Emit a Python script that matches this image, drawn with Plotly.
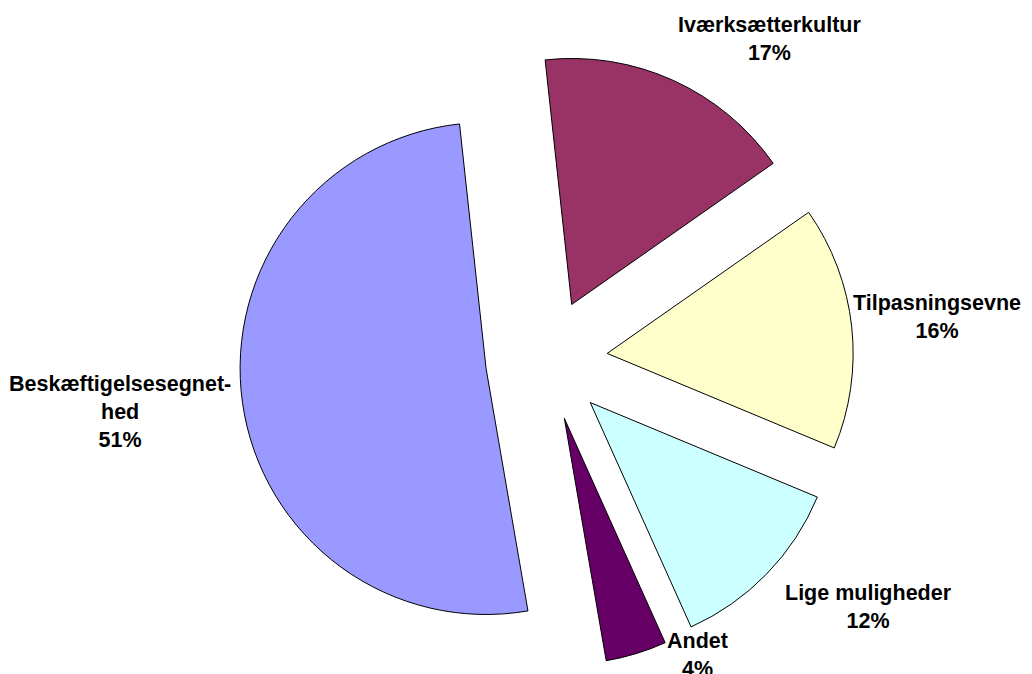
import plotly.graph_objects as go

# Data
labels = ["Iværksætterkultur", "Tilpasningsevne", "Lige muligheder", "Andet", "Beskæftigelsesegnethed"]
label_text = ["Iværksætterkultur", "Tilpasningsevne", "Lige muligheder", "Andet", "Beskæftigelsesegnet-<br>hed"]
values = [17, 16, 12, 4, 51]
colors = ["#993366", "#FFFFCC", "#CCFFFF", "#660066", "#9999FF"]
title_text = "(mio. kr.)"

# label anchor positions (pixels inside the figure)
label_px = [(761, 31), (929, 309), (860, 599), (689, 647), (112, 404)]

W, H = 1032, 674
mt, mb = 45, 15
ph = H - mt - mb
cx = 538.5

fig = go.Figure()
fig.add_trace(go.Pie(
    labels=labels,
    values=values,
    sort=False,
    direction="clockwise",
    rotation=-6.2,
    pull=[0.248] * len(values),
    marker=dict(colors=colors, line=dict(color="#000000", width=1)),
    textinfo="none",
    hoverinfo="label+percent",
    showlegend=False,
    domain=dict(x=[2 * cx / W - 1, 1], y=[0, 1]),
))

total = sum(values)
font = dict(family="Arial, Liberation Sans, sans-serif", size=21.5, color="#000000")
for txt, v, (px, py) in zip(label_text, values, label_px):
    pct = round(100 * v / total)
    fig.add_annotation(
        text=f"<b>{txt}<br>{pct}%</b>",
        x=px / W, y=(H - mb - py) / ph,
        xref="paper", yref="paper",
        xanchor="center", yanchor="middle",
        showarrow=False, font=font, align="center",
    )

fig.add_annotation(
    text=f"<b>{title_text}</b>",
    x=495.5 / W, y=(H - mb + 1) / ph,
    xref="paper", yref="paper",
    xanchor="center", yanchor="bottom",
    showarrow=False, font=dict(family="Arial, Liberation Sans, sans-serif", size=18, color="#000000"),
)

fig.update_layout(
    width=W, height=H,
    margin=dict(l=0, r=0, t=mt, b=mb),
    paper_bgcolor="#FFFFFF",
    plot_bgcolor="#FFFFFF",
)

fig.write_html("out.html")
